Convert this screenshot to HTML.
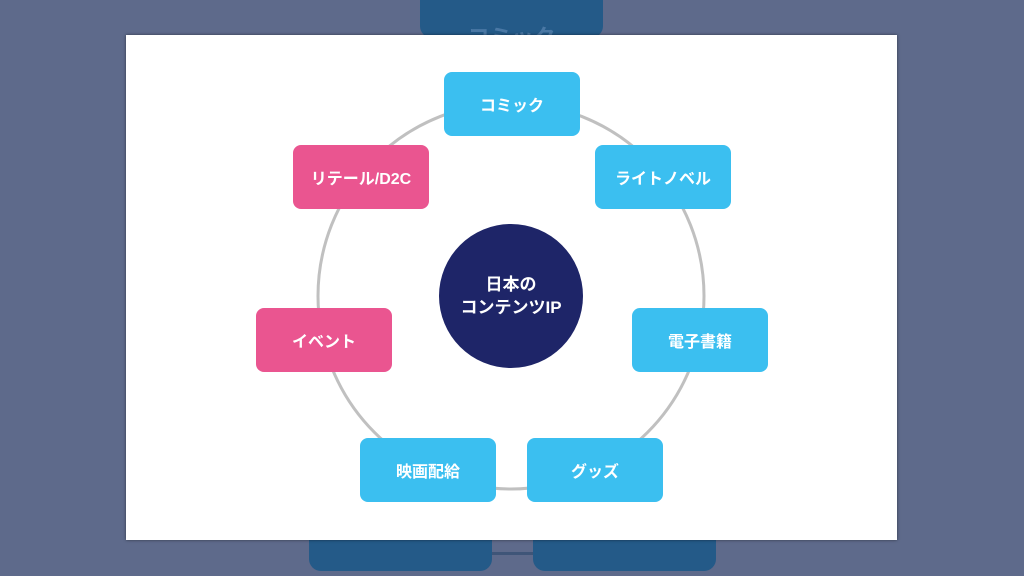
<!DOCTYPE html>
<html><head><meta charset="utf-8"><style>
body{margin:0;width:1024px;height:576px;overflow:hidden;background:#5e6a8b;position:relative;font-family:"Liberation Sans","Noto Sans CJK JP",sans-serif}
.bg{position:absolute;background:#245a88;border-radius:12px}
.card{position:absolute;left:126px;top:35px;width:771px;height:505px;background:#fff;box-shadow:0 0 3px rgba(0,0,0,.5)}
.n{position:absolute;width:136px;height:64px;border-radius:8px;color:#fff;font-weight:bold;font-size:16px;display:flex;align-items:center;justify-content:center}
.b{background:#3bbff0}.p{background:#ea5590}
</style></head><body>
<div class="bg" style="left:420px;top:-12px;width:183px;height:50px;color:#4a78a5;font-size:22px;font-weight:bold;text-align:center"><div style="margin-top:32px">コミック</div></div>
<div class="bg" style="left:309px;top:528px;width:183px;height:43px"></div>
<div class="bg" style="left:533px;top:528px;width:183px;height:43px"></div>
<div style="position:absolute;left:492px;top:552px;width:41px;height:3px;background:#3f5578"></div>
<div class="card"></div>
<svg style="position:absolute;left:0;top:0" width="1024" height="576"><circle cx="511" cy="296" r="193" fill="none" stroke="#c0c0c0" stroke-width="3"/><circle cx="511" cy="296" r="72" fill="#1e2568"/>
<text x="511" y="290" fill="#fff" font-size="17" font-weight="bold" text-anchor="middle" font-family="Liberation Sans,Noto Sans CJK JP,sans-serif">日本の</text>
<text x="511" y="313" fill="#fff" font-size="17" font-weight="bold" text-anchor="middle" font-family="Liberation Sans,Noto Sans CJK JP,sans-serif">コンテンツIP</text></svg>
<div class="n b" style="left:444px;top:72px">コミック</div>
<div class="n b" style="left:595px;top:145px">ライトノベル</div>
<div class="n b" style="left:632px;top:308px">電子書籍</div>
<div class="n b" style="left:527px;top:438px">グッズ</div>
<div class="n b" style="left:360px;top:438px">映画配給</div>
<div class="n p" style="left:256px;top:308px">イベント</div>
<div class="n p" style="left:293px;top:145px">リテール/D2C</div>
</body></html>
